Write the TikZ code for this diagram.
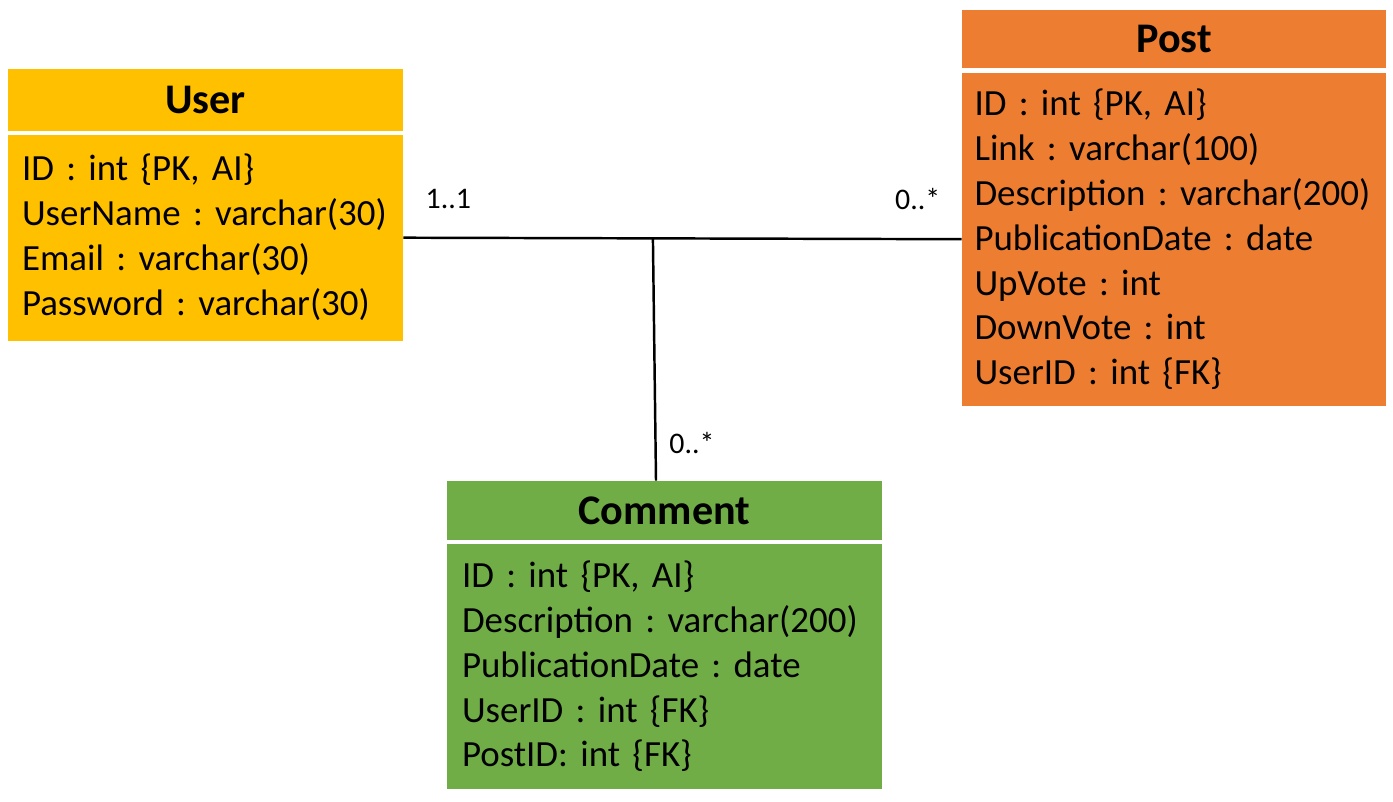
\documentclass[tikz,border=0pt]{standalone}
\usepackage{fontspec}
\setmainfont{Carlito}
\usetikzlibrary{positioning,calc}
\definecolor{userfill}{HTML}{FFC000}
\definecolor{postfill}{HTML}{ED7D31}
\definecolor{commentfill}{HTML}{70AD47}
\tikzset{
    head/.style={rectangle, inner sep=0pt, font=\fontsize{24}{28}\selectfont\bfseries},
    body/.style={rectangle, inner xsep=0.28cm, inner ysep=0pt, align=left, anchor=north,
        font=\fontsize{21}{25.6}\selectfont\frenchspacing},
    mult/.style={font=\fontsize{17}{20}\selectfont},
    link/.style={line width=1.4pt}
}
\begin{document}
\begin{tikzpicture}[scale=1]
    \useasboundingbox (0, 0) rectangle (27.86, 16.02);
    \node[head, fill=userfill, minimum width=7.9cm, minimum height=1.24cm] (userHead) at (4.11, 14.02) {User};
    \node[body, fill=userfill, text width=7.34cm, minimum height=4.12cm, below=0.06cm of userHead] (user)
        {ID : int \{PK, AI\}\\UserName : varchar(30)\\Email : varchar(30)\\Password : varchar(30)};
    \node[head, fill=postfill, minimum width=8.48cm, minimum height=1.16cm] (postHead) at (23.48, 15.24) {Post};
    \node[body, fill=postfill, inner xsep=0.25cm, text width=7.98cm, minimum height=6.66cm, below=0.08cm of postHead] (post)
        {ID : int \{PK, AI\}\\Link : varchar(100)\\Description : varchar(200)\\PublicationDate : date\\UpVote : int\\DownVote : int\\UserID : int \{FK\}};
    \node[head, fill=commentfill, minimum width=8.7cm, minimum height=1.18cm] (commentHead) at (13.29, 5.81) {Comment};
    \node[body, fill=commentfill, inner xsep=0.3cm, text width=8.1cm, minimum height=4.9cm, below=0.06cm of commentHead] (comment)
        {ID : int \{PK, AI\}\\Description : varchar(200)\\PublicationDate : date\\UserID : int \{FK\}\\PostID: int \{FK\}};
    \draw[link] (user.east) -- (post.west);
    \coordinate (join) at ($(user.east)!0.447!(post.west)$);
    \draw[link] (join) -- ($(commentHead.north)+(-0.17, 0)$);
    \node[mult] (userMult) at ($(user.east)+(0.9, 0.78)$) {1..1};
    \node[mult] (postMult) at ($(post.west)+(-0.88, 0.81)$) {0..*};
    \node[mult] (commentMult) at ($(commentHead.north)+(0.55, 0.76)$) {0..*};
\end{tikzpicture}
\end{document}
